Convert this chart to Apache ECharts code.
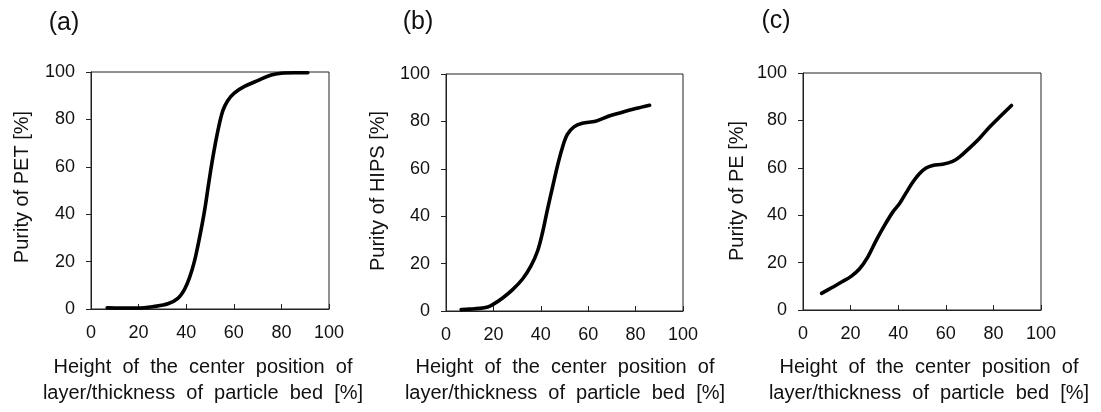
<!DOCTYPE html>
<html>
<head>
<meta charset="utf-8">
<script src="https://cdn.jsdelivr.net/npm/echarts@6/dist/echarts.min.js"></script>
<style>
html,body{margin:0;padding:0;background:#fff;}
#chart{width:1101px;height:412px;}
</style>
</head>
<body>
<div id="chart"></div>
<script>
// ---- data ----
var panelLabels = ['(a)', '(b)', '(c)'];
var yTitles = ['Purity of PET [%]', 'Purity of HIPS [%]', 'Purity of PE [%]'];
var xTitleLines = ['Height  of  the  center  position  of', 'layer/thickness  of  particle  bed  [%]'];
var axisTicks = [0, 20, 40, 60, 80, 100];

var xPET = [6.8, 12.7, 19.7, 26.7, 32.3, 36.5, 39.3, 41.4, 43.5, 45.6, 47.7, 49.4, 51.2, 53.3, 55.4, 57.5, 60.3, 64.5, 70.1, 75.7, 79.9, 85.5, 91.1];
var yPET = [0.5, 0.4, 0.4, 1.1, 2.2, 4.5, 8.3, 13.2, 20.3, 30.1, 41.4, 52.7, 64.0, 75.2, 83.7, 88.0, 91.2, 93.9, 96.4, 98.7, 99.5, 99.7, 99.7];

var xHIPS = [6.4, 9.9, 14.1, 17.6, 19.7, 23.9, 28.1, 32.3, 35.8, 38.6, 40.7, 42.8, 44.9, 47.0, 49.1, 51.2, 54.0, 57.5, 63.1, 68.8, 74.4, 80.0, 85.9];
var yHIPS = [0.6, 0.8, 1.1, 1.7, 2.7, 5.5, 9.0, 13.5, 18.9, 25.2, 33.0, 42.8, 52.0, 61.1, 68.9, 74.5, 77.7, 79.2, 80.1, 82.3, 83.9, 85.4, 86.8];

var xPE = [7.8, 12.4, 16.6, 20.2, 23.7, 27.2, 30.7, 34.2, 37.7, 40.5, 43.3, 46.1, 48.9, 51.7, 54.5, 58.7, 62.9, 65.7, 69.9, 74.2, 78.4, 82.6, 87.6];
var yPE = [7.0, 9.6, 12.0, 14.2, 17.3, 22.3, 29.3, 35.6, 41.3, 44.8, 49.4, 53.9, 57.5, 59.9, 61.0, 61.5, 62.7, 64.5, 68.3, 72.5, 77.2, 81.4, 86.3];

var seriesX = [xPET, xHIPS, xPE];
var seriesY = [yPET, yHIPS, yPE];

// ---- layout ----
var grids = [
  {left: 91, top: 72, width: 238, height: 237},
  {left: 446, top: 74, width: 237, height: 237},
  {left: 803, top: 73, width: 238, height: 237}
];
var labelPos = [[64, 23], [418, 22], [776, 21]];
var yTitlePos = [[22, 187], [378, 191], [737, 191]];
var xTitleCenter = [203, 565, 929];

var font = '"Liberation Sans", Arial, sans-serif';
var chart = echarts.init(document.getElementById('chart'), null, {renderer: 'canvas'});

function zip(xs, ys) { return xs.map(function (x, i) { return [x, ys[i]]; }); }

var option = {
  animation: false,
  backgroundColor: '#fff',
  grid: grids.map(function (g) {
    return {left: g.left, top: g.top, width: g.width, height: g.height, show: true,
      borderColor: '#222', borderWidth: 1, backgroundColor: 'transparent', containLabel: false};
  }),
  xAxis: grids.map(function (g, i) {
    return {type: 'value', gridIndex: i, min: 0, max: 100, interval: 20,
      axisLine: {show: true, lineStyle: {color: '#222', width: 1}},
      axisTick: {show: true, inside: true, length: 5, lineStyle: {color: '#222'}},
      splitLine: {show: false},
      axisLabel: {color: '#111', fontSize: 18, fontFamily: font, margin: 15,
        formatter: function (v) { return axisTicks.indexOf(v) >= 0 ? String(v) : ''; }}};
  }),
  yAxis: grids.map(function (g, i) {
    return {type: 'value', gridIndex: i, min: 0, max: 100, interval: 20,
      axisLine: {show: true, lineStyle: {color: '#222', width: 1}},
      axisTick: {show: true, inside: false, length: 5, lineStyle: {color: '#222'}},
      splitLine: {show: false},
      axisLabel: {color: '#111', fontSize: 18, fontFamily: font, margin: 16,
        formatter: function (v) { return axisTicks.indexOf(v) >= 0 ? String(v) : ''; }}};
  }),
  series: seriesX.map(function (xs, i) {
    return {type: 'line', xAxisIndex: i, yAxisIndex: i, data: zip(xs, seriesY[i]),
      showSymbol: false, symbol: 'none', smooth: 0.35,
      lineStyle: {color: '#000', width: 3.6, cap: 'round', join: 'round'}};
  }),
  graphic: []
};

for (var i = 0; i < 3; i++) {
  option.graphic.push({type: 'text', x: labelPos[i][0], y: labelPos[i][1],
    style: {text: panelLabels[i], font: '25px ' + font, fill: '#111', align: 'center', verticalAlign: 'middle'}});
  option.graphic.push({type: 'text', x: yTitlePos[i][0], y: yTitlePos[i][1], rotation: Math.PI / 2,
    style: {text: yTitles[i], font: '20px ' + font, fill: '#111', align: 'center', verticalAlign: 'middle'}});
  option.graphic.push({type: 'text', x: xTitleCenter[i], y: 367,
    style: {text: xTitleLines[0], font: '20px ' + font, fill: '#111', align: 'center', verticalAlign: 'middle'}});
  option.graphic.push({type: 'text', x: xTitleCenter[i], y: 393,
    style: {text: xTitleLines[1], font: '20px ' + font, fill: '#111', align: 'center', verticalAlign: 'middle'}});
}

chart.setOption(option);
</script>
</body>
</html>
